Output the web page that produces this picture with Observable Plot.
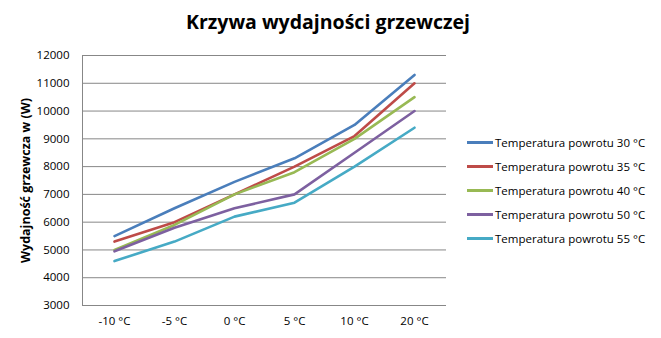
<!DOCTYPE html>
<html>
<head>
<meta charset="utf-8">
<script src="https://cdn.jsdelivr.net/npm/d3@7"></script>
<script src="https://cdn.jsdelivr.net/npm/@observablehq/plot@0.6"></script>
<style>
  body { margin: 0; background: #fff; }
  #wrap { position: relative; width: 661px; height: 338px; font-family: "Open Sans", sans-serif; }
  #title { position: absolute; top: 8px; left: 0; width: 656px; text-align: center; font-weight: bold; font-size: 19.5px; color: #000; }
  #legend { position: absolute; left: 467px; top: 130px; font-size: 11.5px; color: #000; }
  .li { height: 24.1px; display: flex; align-items: center; white-space: nowrap; }
  .sw { width: 26px; height: 3px; margin-right: 2px; }
  #chart { position: absolute; top: 0; left: 0; }
</style>
</head>
<body>
<div id="wrap">
  <div id="chart"></div>
  <div id="title">Krzywa wydajności grzewczej</div>
  <div id="legend"></div>
</div>
<script>
const categories = ["-10 °C", "-5 °C", "0 °C", "5 °C", "10 °C", "20 °C"];
const seriesNames = [
  "Temperatura powrotu 30 °C",
  "Temperatura powrotu 35 °C",
  "Temperatura powrotu 40 °C",
  "Temperatura powrotu 50 °C",
  "Temperatura powrotu 55 °C"
];
const s30 = [5500, 6500, 7450, 8300, 9500, 11300];
const s35 = [5300, 6000, 7000, 8000, 9100, 11000];
const s40 = [5000, 5900, 7000, 7800, 9000, 10500];
const s50 = [4950, 5800, 6500, 7000, 8500, 10000];
const s55 = [4600, 5300, 6200, 6700, 8000, 9400];
const yTicks = [3000, 4000, 5000, 6000, 7000, 8000, 9000, 10000, 11000, 12000];
const yLabel = "Wydajność grzewcza w (W)";
const colors = ["#4a7ebb", "#be4b48", "#98b954", "#7d60a0", "#46aac5"];

const allSeries = [s30, s35, s40, s50, s55];
const data = [];
allSeries.forEach((vals, si) => {
  vals.forEach((v, i) => data.push({ series: seriesNames[si], cat: categories[i], v }));
});

const chart = Plot.plot({
  width: 661,
  height: 338,
  marginTop: 55,
  marginBottom: 33,
  marginLeft: 82,
  marginRight: 215,
  style: { fontFamily: "Open Sans, sans-serif", fontSize: "11.5px", color: "#000", background: "transparent" },
  x: { type: "point", domain: categories, padding: 0.5, label: null, tickSize: 0, tickPadding: 11 },
  y: { domain: [3000, 12000], ticks: yTicks, tickSize: 0, tickPadding: 13, label: null, tickFormat: d3.format("d") },
  color: { domain: seriesNames, range: colors },
  marks: [
    Plot.ruleY(yTicks, { stroke: "#878787", strokeWidth: 1 }),
    Plot.frame({ anchor: "left", stroke: "#878787" }),
    Plot.lineY(data, { x: "cat", y: "v", z: "series", stroke: "series", strokeWidth: 2.6 }),
    Plot.text([yLabel], { frameAnchor: "left", textAnchor: "middle", rotate: -90, dx: -57, fontWeight: "bold", fontSize: 12.5 })
  ]
});
document.getElementById("chart").appendChild(chart);

const legend = document.getElementById("legend");
seriesNames.forEach((n, i) => {
  const row = document.createElement("div");
  row.className = "li";
  const sw = document.createElement("span");
  sw.className = "sw";
  sw.style.background = colors[i];
  const t = document.createElement("span");
  t.textContent = n;
  row.appendChild(sw);
  row.appendChild(t);
  legend.appendChild(row);
});
</script>
</body>
</html>
